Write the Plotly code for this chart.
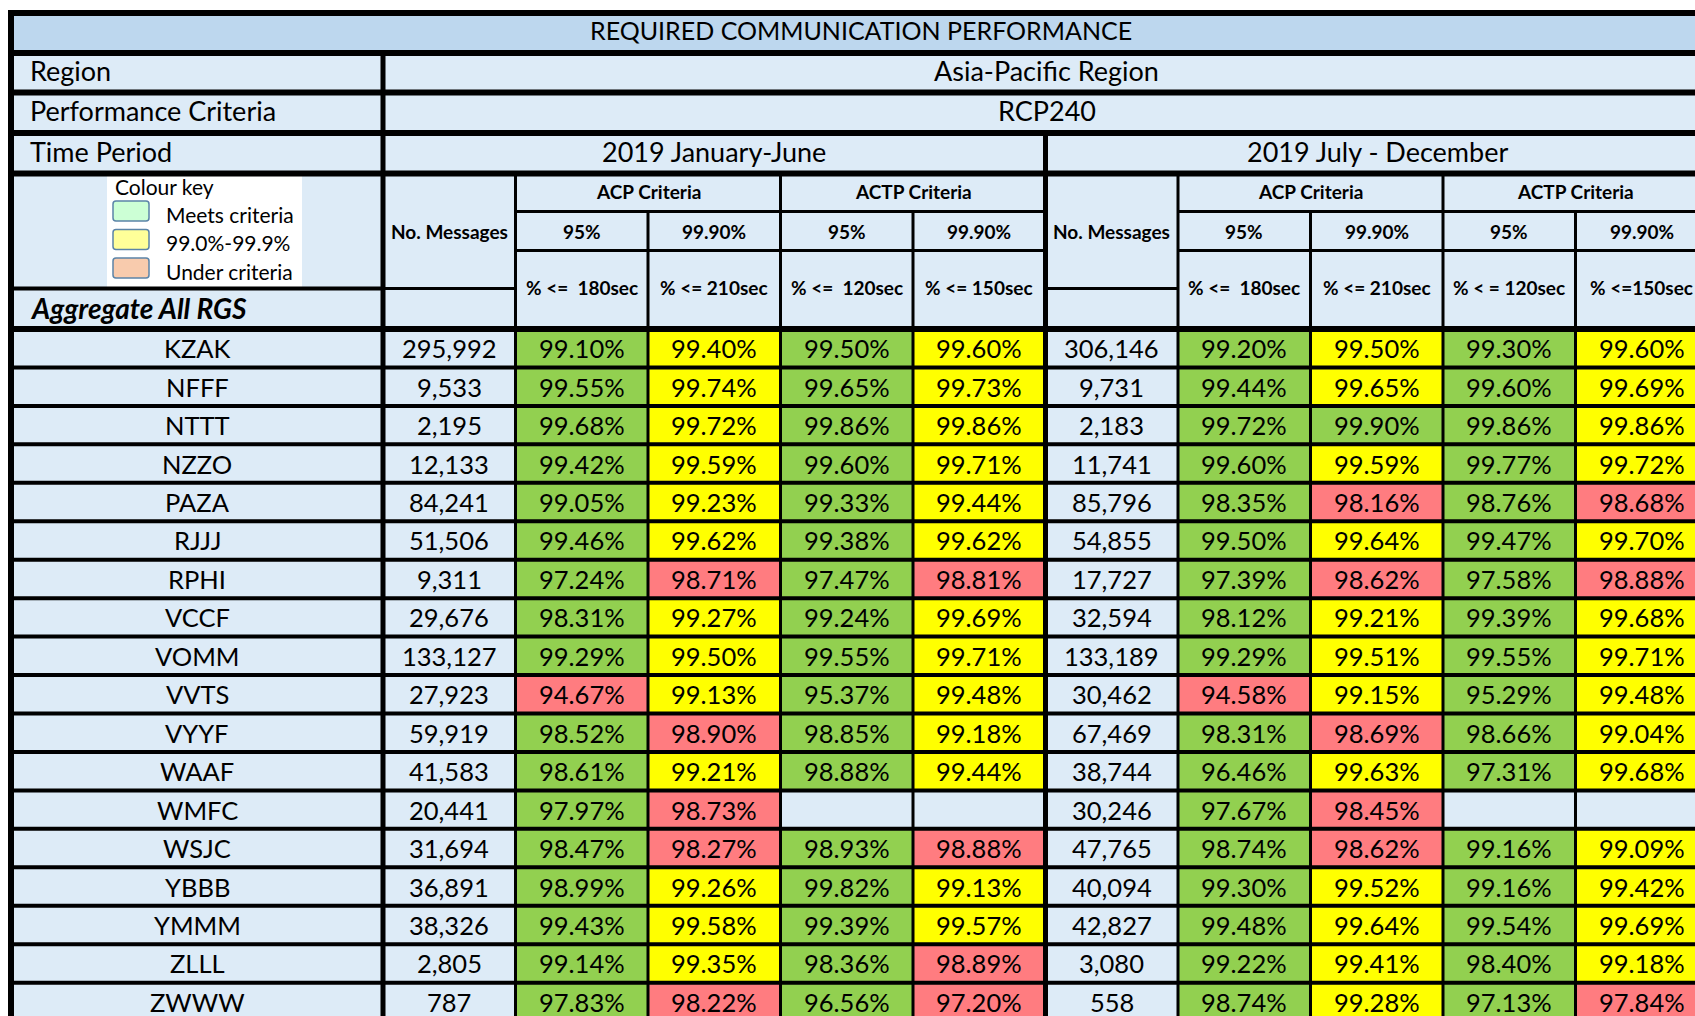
import plotly.graph_objects as go

# ---------------- data ----------------
stations = ["KZAK", "NFFF", "NTTT", "NZZO", "PAZA", "RJJJ", "RPHI", "VCCF", "VOMM",
            "VVTS", "VYYF", "WAAF", "WMFC", "WSJC", "YBBB", "YMMM", "ZLLL", "ZWWW"]

msgs_h1 = [295992, 9533, 2195, 12133, 84241, 51506, 9311, 29676, 133127,
           27923, 59919, 41583, 20441, 31694, 36891, 38326, 2805, 787]
acp95_h1 = [99.10, 99.55, 99.68, 99.42, 99.05, 99.46, 97.24, 98.31, 99.29,
            94.67, 98.52, 98.61, 97.97, 98.47, 98.99, 99.43, 99.14, 97.83]
acp999_h1 = [99.40, 99.74, 99.72, 99.59, 99.23, 99.62, 98.71, 99.27, 99.50,
             99.13, 98.90, 99.21, 98.73, 98.27, 99.26, 99.58, 99.35, 98.22]
actp95_h1 = [99.50, 99.65, 99.86, 99.60, 99.33, 99.38, 97.47, 99.24, 99.55,
             95.37, 98.85, 98.88, None, 98.93, 99.82, 99.39, 98.36, 96.56]
actp999_h1 = [99.60, 99.73, 99.86, 99.71, 99.44, 99.62, 98.81, 99.69, 99.71,
              99.48, 99.18, 99.44, None, 98.88, 99.13, 99.57, 98.89, 97.20]

msgs_h2 = [306146, 9731, 2183, 11741, 85796, 54855, 17727, 32594, 133189,
           30462, 67469, 38744, 30246, 47765, 40094, 42827, 3080, 558]
acp95_h2 = [99.20, 99.44, 99.72, 99.60, 98.35, 99.50, 97.39, 98.12, 99.29,
            94.58, 98.31, 96.46, 97.67, 98.74, 99.30, 99.48, 99.22, 98.74]
acp999_h2 = [99.50, 99.65, 99.90, 99.59, 98.16, 99.64, 98.62, 99.21, 99.51,
             99.15, 98.69, 99.63, 98.45, 98.62, 99.52, 99.64, 99.41, 99.28]
actp95_h2 = [99.30, 99.60, 99.86, 99.77, 98.76, 99.47, 97.58, 99.39, 99.55,
             95.29, 98.66, 97.31, None, 99.16, 99.16, 99.54, 98.40, 97.13]
actp999_h2 = [99.60, 99.69, 99.86, 99.72, 98.68, 99.70, 98.88, 99.68, 99.71,
              99.48, 99.04, 99.68, None, 99.09, 99.42, 99.69, 99.18, 97.84]

title_text = "REQUIRED COMMUNICATION PERFORMANCE"
region_label, region_value = "Region", "Asia-Pacific Region"
criteria_label, criteria_value = "Performance Criteria", "RCP240"
period_label = "Time Period"
periods = ["2019 January-June", "2019 July - December"]
criteria_groups = ["ACP Criteria", "ACTP Criteria"]
targets = ["95%", "99.90%", "95%", "99.90%"]
limits_h1 = ["% &lt;=  180sec", "% &lt;= 210sec", "% &lt;=  120sec", "% &lt;= 150sec"]
limits_h2 = ["% &lt;=  180sec", "% &lt;= 210sec", "% &lt; = 120sec", "% &lt;=150sec"]
msg_header = "No. Messages"
aggregate_label = "Aggregate All RGS"
key_title = "Colour key"
key_labels = ["Meets criteria", "99.0%-99.9%", "Under criteria"]
key_colors = ["#ccffd5", "#ffff99", "#f8cbad"]

# ---------------- styling / layout ----------------
W, H = 1695, 1016
FONT = "Lato, Carlito, Calibri, sans-serif"
HDR_DARK = "#bdd7ee"
HDR = "#ddebf7"
GREEN, YELLOW, RED = "#92d050", "#ffff00", "#ff7c80"

X_LEFT = 11
X0 = 383
CW = 132.5
col_x = [X0 + CW * i for i in range(11)]
hdr_y = [13, 53, 92.5, 133, 173.5, 211.5, 250.5, 288.5, 329]
RH = 38.45
DATA_Y0 = 329
X_RIGHT = 1710

shapes = []
ann = []


def rect(x0, y0, x1, y1, color, line=None):
    shapes.append(dict(type="rect", xref="x", yref="y", x0=x0, x1=x1, y0=y0, y1=y1,
                       fillcolor=color, line=line or dict(width=0), layer="below"))


def hline(y, x0, x1, w):
    shapes.append(dict(type="line", xref="x", yref="y", x0=x0, x1=x1, y0=y, y1=y,
                       line=dict(color="black", width=w), layer="above"))


def vline(x, y0, y1, w):
    shapes.append(dict(type="line", xref="x", yref="y", x0=x, x1=x, y0=y0, y1=y1,
                       line=dict(color="black", width=w), layer="above"))


def text(x, y, s, size, anchor="center", bold=False, italic=False):
    if bold:
        s = "<b>" + s + "</b>"
    if italic:
        s = "<i>" + s + "</i>"
    ann.append(dict(x=x, y=y, xref="x", yref="y", text=s, showarrow=False,
                    xanchor=anchor, yanchor="middle",
                    font=dict(family=FONT, size=size, color="black")))


def pct_color(v, target):
    if v is None:
        return HDR
    if v >= target:
        return GREEN
    if target > 99 and v >= 99.0:
        return YELLOW
    return RED


# backgrounds
rect(X_LEFT, hdr_y[0], W + 20, hdr_y[1], HDR_DARK)
rect(X_LEFT, hdr_y[1], W + 20, H + 20, HDR)

# colour key box
rect(107, 176, 302, 287, "white")
text(113, 186, key_title, 21, anchor="left")
for i, (lab, col) in enumerate(zip(key_labels, key_colors)):
    yc = 211 + i * 28.5
    shapes.append(dict(type="path", xref="x", yref="y",
                       path=f"M 116 {yc-10} L 146 {yc-10} Q 149 {yc-10} 149 {yc-7} L 149 {yc+7} "
                            f"Q 149 {yc+10} 146 {yc+10} L 116 {yc+10} Q 113 {yc+10} 113 {yc+7} "
                            f"L 113 {yc-7} Q 113 {yc-10} 116 {yc-10} Z",
                       fillcolor=col, line=dict(color="#5b84a8", width=1.5), layer="above"))
    text(164, yc + 3, lab, 21, anchor="left")

# header texts
HS = 27
text((X_LEFT + X_RIGHT) / 2, 30, title_text, 25)
text(28, (hdr_y[1] + hdr_y[2]) / 2 - 2, region_label, HS, anchor="left")
text(28, (hdr_y[2] + hdr_y[3]) / 2 - 2, criteria_label, HS, anchor="left")
text(28, (hdr_y[3] + hdr_y[4]) / 2 - 2, period_label, HS, anchor="left")
text(28, (hdr_y[7] + hdr_y[8]) / 2 - 1, aggregate_label, 28, anchor="left", bold=True, italic=True)
text((col_x[0] + X_RIGHT) / 2, (hdr_y[1] + hdr_y[2]) / 2 - 2, region_value, HS)
text((col_x[0] + X_RIGHT) / 2, (hdr_y[2] + hdr_y[3]) / 2 - 2, criteria_value, HS)

for p in range(2):
    base = p * 5
    xa = col_x[base]
    xb = col_x[base + 5] if p == 0 else X_RIGHT
    text((xa + xb) / 2, (hdr_y[3] + hdr_y[4]) / 2 - 2, periods[p], HS)
    text((col_x[base] + col_x[base + 1]) / 2, (hdr_y[4] + hdr_y[7]) / 2, msg_header, 19, bold=True)
    for g in range(2):
        gx0 = col_x[base + 1 + 2 * g]
        gx1 = col_x[base + 3 + 2 * g]
        text((gx0 + gx1) / 2, (hdr_y[4] + hdr_y[5]) / 2 - 1, criteria_groups[g], 19, bold=True)
    lims = limits_h1 if p == 0 else limits_h2
    for k in range(4):
        cx = (col_x[base + 1 + k] + col_x[base + 2 + k]) / 2
        text(cx, (hdr_y[5] + hdr_y[6]) / 2, targets[k], 19, bold=True)
        text(cx, (hdr_y[6] + hdr_y[8]) / 2 - 2, lims[k], 19, bold=True)

# data rows
period_data = [
    (msgs_h1, [acp95_h1, acp999_h1, actp95_h1, actp999_h1]),
    (msgs_h2, [acp95_h2, acp999_h2, actp95_h2, actp999_h2]),
]
target_vals = [95.0, 99.9, 95.0, 99.9]
DS = 25.5
for r, st in enumerate(stations):
    y0 = DATA_Y0 + r * RH
    y1 = y0 + RH
    yc = (y0 + y1) / 2
    text((X_LEFT + col_x[0]) / 2, yc, st, DS)
    for p, (msgs, pcts) in enumerate(period_data):
        base = p * 5
        text((col_x[base] + col_x[base + 1]) / 2, yc, f"{msgs[r]:,}", DS)
        for k in range(4):
            v = pcts[k][r]
            cx0, cx1 = col_x[base + 1 + k], col_x[base + 2 + k]
            rect(cx0, y0, cx1, y1, pct_color(v, target_vals[k]))
            if v is not None:
                text((cx0 + cx1) / 2, yc, f"{v:.2f}%", DS)

# grid lines
BIG = W + 20
hline(hdr_y[0], 8, BIG, 6)
for y in hdr_y[1:5]:
    hline(y, 8, BIG, 6)
hline(DATA_Y0, 8, BIG, 6)
for r in range(1, len(stations) + 1):
    hline(DATA_Y0 + r * RH, 8, BIG, 4)
vline(X_LEFT, 10, H + 20, 6)
vline(col_x[0], hdr_y[1], H + 20, 5)
vline(col_x[5], hdr_y[3], H + 20, 5)
hline(hdr_y[7], X_LEFT, col_x[0], 4)
for p in range(2):
    base = p * 5
    xend = col_x[base + 5] if p == 0 else BIG
    hline(hdr_y[7], col_x[base], col_x[base + 1], 3)
    hline(hdr_y[5], col_x[base + 1], xend, 3)
    hline(hdr_y[6], col_x[base + 1], xend, 3)
    vline(col_x[base + 1], hdr_y[4], H + 20, 3)
    vline(col_x[base + 3], hdr_y[4], H + 20, 3)
    vline(col_x[base + 2], hdr_y[5], H + 20, 3)
    vline(col_x[base + 4], hdr_y[5], H + 20, 3)

fig = go.Figure()
fig.update_layout(
    width=W, height=H,
    margin=dict(l=0, r=0, t=0, b=0),
    paper_bgcolor="white", plot_bgcolor="white",
    xaxis=dict(range=[0, W], visible=False, fixedrange=True),
    yaxis=dict(range=[H, 0], visible=False, fixedrange=True),
    shapes=shapes, annotations=ann, showlegend=False,
)
fig.write_html("out.html", config={"displayModeBar": False},
               post_script="document.body.style.margin='0';document.body.style.overflow='hidden';")
